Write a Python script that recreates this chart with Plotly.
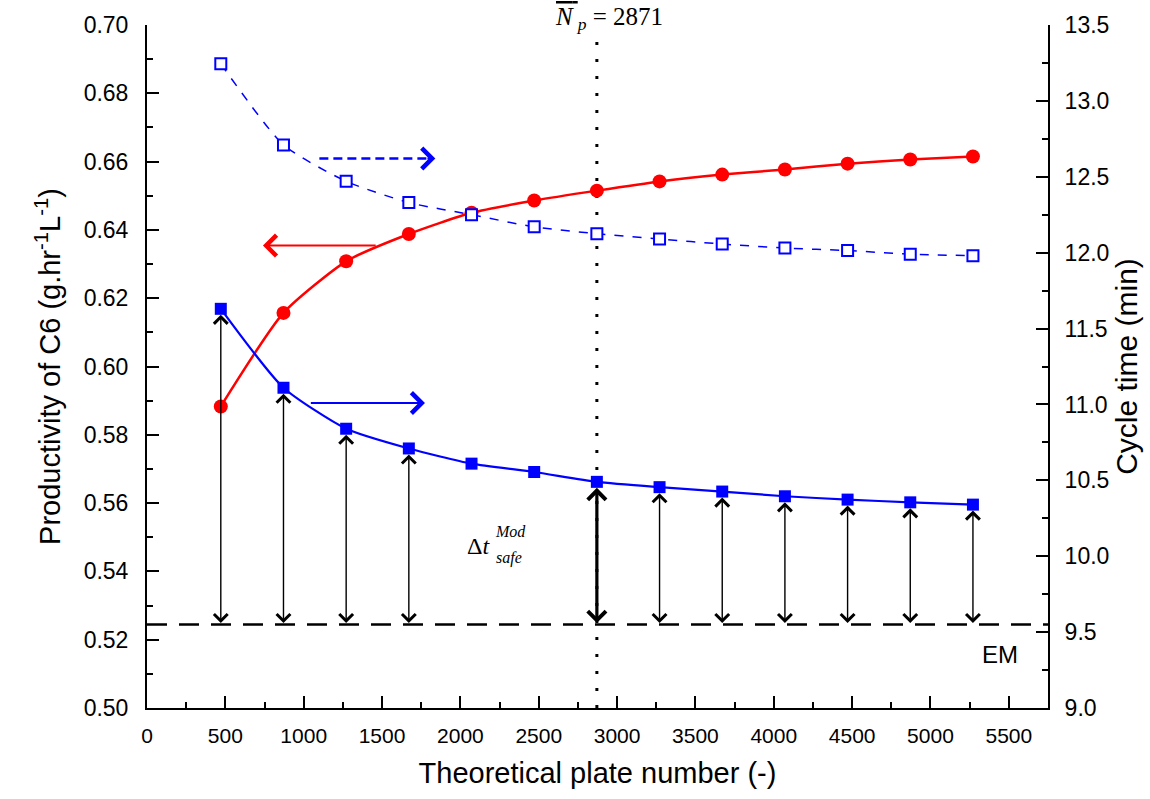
import plotly.graph_objects as go

# Theoretical plate numbers
plates = [471, 871, 1271, 1671, 2071, 2471, 2871, 3271, 3671, 4071, 4471, 4871, 5271]

# Productivity of C6 (left axis)
productivity = [0.5883, 0.6157, 0.6308, 0.6388, 0.6450, 0.6486, 0.6515,
                0.6542, 0.6562, 0.6577, 0.6594, 0.6606, 0.6615]

# Cycle time, modified operation (filled squares, right axis)
cycle_mod = [11.63, 11.11, 10.84, 10.71, 10.61, 10.555, 10.49,
             10.455, 10.426, 10.395, 10.373, 10.355, 10.34]

# Cycle time, other operation (open squares, right axis)
cycle_open = [13.245, 12.71, 12.47, 12.33, 12.25, 12.17, 12.125,
              12.09, 12.057, 12.03, 12.014, 11.99, 11.98]

# EM reference cycle time
em_cycle = 9.55

# Optimal plate number
np_opt = 2871

# Plate numbers that get a safety-margin arrow
arrow_plates = [471, 871, 1271, 1671, 2871, 3271, 3671, 4071, 4471, 4871, 5271]

# Axis ranges
x_range = [0, 5750]
y_left_range = [0.50, 0.70]
y_right_range = [9.0, 13.5]

# Horizontal axis-indicator arrows: (x_tail, x_head, y)
red_arrow = (1469, 740, 0.6354)
blue_arrow = (1036, 1774, 11.01)
blue_dash_arrow = (1100, 1840, 12.62)

BLUE = "#0000ff"
RED = "#ff0000"
AX_FONT = "Liberation Sans, Arial, sans-serif"
SERIF = "Liberation Serif, DejaVu Serif, serif"

fig = go.Figure()

# EM dashed reference line
fig.add_trace(go.Scatter(
    x=x_range, y=[em_cycle, em_cycle], yaxis="y2", mode="lines",
    line=dict(color="black", width=2.5, dash="20px,12px"),
    hoverinfo="skip", showlegend=False))

# Dotted vertical line at the optimal plate number
fig.add_trace(go.Scatter(
    x=[np_opt, np_opt], y=[0.50, 0.696], mode="lines",
    line=dict(color="black", width=3, dash="3px,14px"),
    hoverinfo="skip", showlegend=False))

# Open-square cycle time curve
fig.add_trace(go.Scatter(
    x=plates, y=cycle_open, yaxis="y2", mode="lines+markers",
    line=dict(color=BLUE, width=1.5, dash="dash", shape="spline", smoothing=0.6),
    marker=dict(symbol="square", size=11, color="white",
                line=dict(color=BLUE, width=2)),
    showlegend=False))

# Filled-square cycle time curve
fig.add_trace(go.Scatter(
    x=plates, y=cycle_mod, yaxis="y2", mode="lines+markers",
    line=dict(color=BLUE, width=2.2, shape="spline", smoothing=0.6),
    marker=dict(symbol="square", size=12, color=BLUE),
    showlegend=False))

# Productivity curve
fig.add_trace(go.Scatter(
    x=plates, y=productivity, mode="lines+markers",
    line=dict(color=RED, width=2.5, shape="spline", smoothing=0.6),
    marker=dict(symbol="circle", size=14, color=RED),
    showlegend=False))

annotations = []

# Double-headed safety-margin arrows between EM line and filled squares
for xp in arrow_plates:
    yv = cycle_mod[plates.index(xp)]
    thick = xp == np_opt
    annotations.append(dict(
        x=xp, y=yv, xref="x", yref="y2",
        ax=xp, ay=em_cycle, axref="x", ayref="y2",
        text="", showarrow=True, arrowside="end+start",
        arrowhead=4, startarrowhead=4,
        arrowsize=1.1 if thick else 1.9,
        startarrowsize=1.1 if thick else 1.9,
        arrowwidth=3.2 if thick else 1.4,
        arrowcolor="black", standoff=6, startstandoff=0))

# Horizontal axis-indicator arrows
annotations.append(dict(
    x=red_arrow[1], y=red_arrow[2], xref="x", yref="y",
    ax=red_arrow[0], ay=red_arrow[2], axref="x", ayref="y",
    text="", showarrow=True, arrowhead=4, arrowsize=2.0, arrowwidth=2,
    arrowcolor=RED))
annotations.append(dict(
    x=blue_arrow[1], y=blue_arrow[2], xref="x", yref="y2",
    ax=blue_arrow[0], ay=blue_arrow[2], axref="x", ayref="y2",
    text="", showarrow=True, arrowhead=4, arrowsize=2.0, arrowwidth=2,
    arrowcolor=BLUE))

# Dashed indicator arrow: dashed shaft plus an arrowhead annotation
fig.add_trace(go.Scatter(
    x=[blue_dash_arrow[0], blue_dash_arrow[1] - 30],
    y=[blue_dash_arrow[2], blue_dash_arrow[2]], yaxis="y2", mode="lines",
    line=dict(color=BLUE, width=2.5, dash="9px,5px"),
    hoverinfo="skip", showlegend=False))
annotations.append(dict(
    x=blue_dash_arrow[1], y=blue_dash_arrow[2], xref="x", yref="y2",
    ax=blue_dash_arrow[1] - 60, ay=blue_dash_arrow[2], axref="x", ayref="y2",
    text="", showarrow=True, arrowhead=4, arrowsize=2.0, arrowwidth=2,
    arrowcolor=BLUE))

# Text labels
annotations.append(dict(
    x=np_opt, y=1.0, xref="x", yref="paper", yanchor="middle", yshift=7,
    xanchor="left", xshift=-44,
    text='<span style="text-decoration:overline"><i>N</i>\u2009</span><sub><i>p</i></sub> = 2871',
    showarrow=False,
    font=dict(family=SERIF, size=25, color="black")))
annotations.append(dict(
    x=2117, y=10.07, xref="x", yref="y2",
    text="\u0394<i>t</i>", showarrow=False,
    font=dict(family=SERIF, size=24, color="black")))
annotations.append(dict(
    x=2320, y=10.16, xref="x", yref="y2",
    text="<i>Mod</i>", showarrow=False,
    font=dict(family=SERIF, size=16, color="black")))
annotations.append(dict(
    x=2310, y=9.99, xref="x", yref="y2",
    text="<i>safe</i>", showarrow=False,
    font=dict(family=SERIF, size=16, color="black")))
annotations.append(dict(
    x=5442, y=9.35, xref="x", yref="y2",
    text="EM", showarrow=False,
    font=dict(family=AX_FONT, size=24, color="black")))

axis_common = dict(
    showgrid=False, zeroline=False, showline=True, linecolor="black",
    linewidth=2, ticks="inside", ticklen=12, tickwidth=2, tickcolor="black")

fig.update_layout(
    width=1150, height=799,
    margin=dict(l=147, r=99, t=23, b=91),
    plot_bgcolor="white", paper_bgcolor="white",
    annotations=annotations,
    xaxis=dict(
        range=x_range, tickmode="linear", tick0=0, dtick=500,
        minor=dict(dtick=250, ticklen=6, ticks="inside", tickwidth=2,
                   tickcolor="black"),
        tickfont=dict(family=AX_FONT, size=21, color="black"),
        title=dict(text="Theoretical plate number (-)",
                   font=dict(family=AX_FONT, size=29, color="black"),
                   standoff=16),
        ticklabelstandoff=8,
        **axis_common),
    yaxis=dict(
        range=y_left_range, tickmode="linear", tick0=0.5, dtick=0.02,
        tickformat=".2f",
        minor=dict(dtick=0.01, ticklen=6, ticks="inside", tickwidth=2,
                   tickcolor="black"),
        tickfont=dict(family=AX_FONT, size=23, color="black"),
        title=dict(text="Productivity of C6 (g.hr<sup>-1</sup>L<sup>-1</sup>)",
                   font=dict(family=AX_FONT, size=29, color="black"),
                   standoff=14),
        ticklabelstandoff=12,
        **axis_common),
    yaxis2=dict(
        range=y_right_range, overlaying="y", side="right",
        tickmode="linear", tick0=9.0, dtick=0.5, tickformat=".1f",
        minor=dict(dtick=0.25, ticklen=6, ticks="inside", tickwidth=2,
                   tickcolor="black"),
        tickfont=dict(family=AX_FONT, size=23, color="black"),
        title=dict(text="Cycle time (min)",
                   font=dict(family=AX_FONT, size=30, color="black"),
                   standoff=8),
        ticklabelstandoff=10,
        **axis_common),
)

fig.write_html("out.html")
